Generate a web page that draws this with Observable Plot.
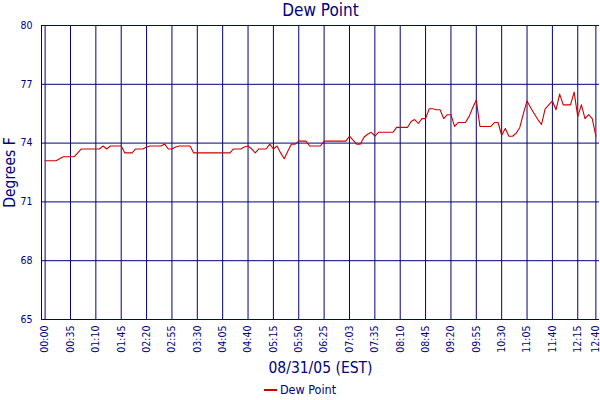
<!DOCTYPE html>
<html>
<head>
<meta charset="utf-8">
<script src="https://cdn.jsdelivr.net/npm/d3@7"></script>
<script src="https://cdn.jsdelivr.net/npm/@observablehq/plot@0.6"></script>
<style>
  html, body { margin: 0; padding: 0; background: #fff; }
  body { width: 600px; height: 400px; overflow: hidden; font-family: "DejaVu Sans Condensed", "DejaVu Sans", sans-serif; color: #000080; }
  #title { height: 20px; line-height: 20px; font-size: 17px; text-align: center; padding-left: 41px; box-sizing: border-box; }
  #legend { height: 20px; margin-top: 0; font-size: 12.5px; text-align: center; line-height: 20px; }
  #legend .swatch { display: inline-block; width: 13px; height: 0; border-top: 2px solid #cc0000; vertical-align: middle; margin-right: 3px; position: relative; top: -1px; }
  svg { display: block; }
</style>
</head>
<body>
<div id="title">Dew Point</div>
<div id="chart"></div>
<div id="legend"><span class="swatch"></span>Dew Point</div>
<script>
const dewPoint = [
  73.1, 73.1, 73.1, 73.1, 73.2, 73.3, 73.3, 73.3, 73.3, 73.5,
  73.7, 73.7, 73.7, 73.7, 73.7, 73.7, 73.85, 73.7, 73.85, 73.85,
  73.85, 73.85, 73.5, 73.5, 73.5, 73.7, 73.7, 73.7, 73.8, 73.85,
  73.85, 73.85, 73.85, 73.95, 73.7, 73.7, 73.8, 73.85, 73.85, 73.85,
  73.85, 73.5, 73.5, 73.5, 73.5, 73.5, 73.5, 73.5, 73.5, 73.5,
  73.5, 73.5, 73.7, 73.7, 73.7, 73.8, 73.85, 73.7, 73.5, 73.7,
  73.7, 73.7, 73.95, 73.7, 73.85, 73.5, 73.2, 73.6, 73.95, 73.95,
  74.1, 74.1, 74.1, 73.85, 73.85, 73.85, 73.85, 74.1, 74.1, 74.1,
  74.1, 74.1, 74.1, 74.1, 74.35, 74.15, 73.95, 73.95, 74.3, 74.45,
  74.55, 74.35, 74.55, 74.55, 74.55, 74.55, 74.55, 74.8, 74.8, 74.8,
  74.8, 75.1, 75.2, 75.0, 75.25, 75.25, 75.75, 75.75, 75.7, 75.7,
  75.25, 75.45, 75.45, 74.85, 75.05, 75.05, 75.05, 75.35, 75.8, 76.2,
  74.85, 74.85, 74.85, 74.85, 75.05, 75.05, 74.4, 74.75, 74.35, 74.35,
  74.5, 74.8, 75.5, 76.15, 75.8, 75.5, 75.2, 74.95, 75.75, 75.95,
  76.15, 75.7, 76.5, 75.95, 75.95, 75.95, 76.6, 75.35, 75.95, 75.25,
  75.45, 75.25, 74.35
];
const tickIndex = [0, 7, 14, 21, 28, 35, 42, 49, 56, 63, 70, 77, 84, 91, 98, 105, 112, 119, 126, 133, 140, 147, 152];
const tickLabels = ["00:00","00:35","01:10","01:45","02:20","02:55","03:30","04:05","04:40","05:15","05:50","06:25","07:03","07:35","08:10","08:45","09:20","09:55","10:30","11:05","11:40","12:15","12:40"];
const yTicks = [65, 68, 71, 74, 77, 80];
const xDomain = [-1, 153];
const navy = "#000080";

const chart = Plot.plot({
  width: 600,
  height: 360,
  marginTop: 5,
  marginLeft: 41,
  marginRight: 1,
  marginBottom: 61,
  style: { fontFamily: '"DejaVu Sans Condensed", "DejaVu Sans", sans-serif', color: navy, background: "white", overflow: "visible" },
  x: { domain: xDomain },
  y: { domain: [65, 80] },
  marks: [
    Plot.ruleY(yTicks, { stroke: navy }),
    Plot.ruleX(tickIndex, { stroke: navy }),
    Plot.ruleX([xDomain[0]], { stroke: navy }),
    Plot.axisY(yTicks, { tickSize: 0, tickPadding: 9, fontSize: 10.5, label: null, color: navy }),
    Plot.axisX(tickIndex, { tickSize: 0, tickPadding: 6, tickRotate: -90, fontSize: 10.5, label: null, color: navy,
      tickFormat: d => tickLabels[tickIndex.indexOf(d)] }),
    Plot.line(dewPoint, { x: (d, i) => i, y: d => d, stroke: "#cc0000", strokeWidth: 1.1 }),
    Plot.text(["08/31/05 (EST)"], { frameAnchor: "bottom", lineAnchor: "bottom", dy: 53, fontSize: 15.5, fill: navy }),
    Plot.text(["Degrees F"], { frameAnchor: "left", textAnchor: "middle", lineAnchor: "middle", dx: -31, rotate: -90, fontSize: 15.5, fill: navy })
  ]
});
document.getElementById("chart").appendChild(chart);
</script>
</body>
</html>
